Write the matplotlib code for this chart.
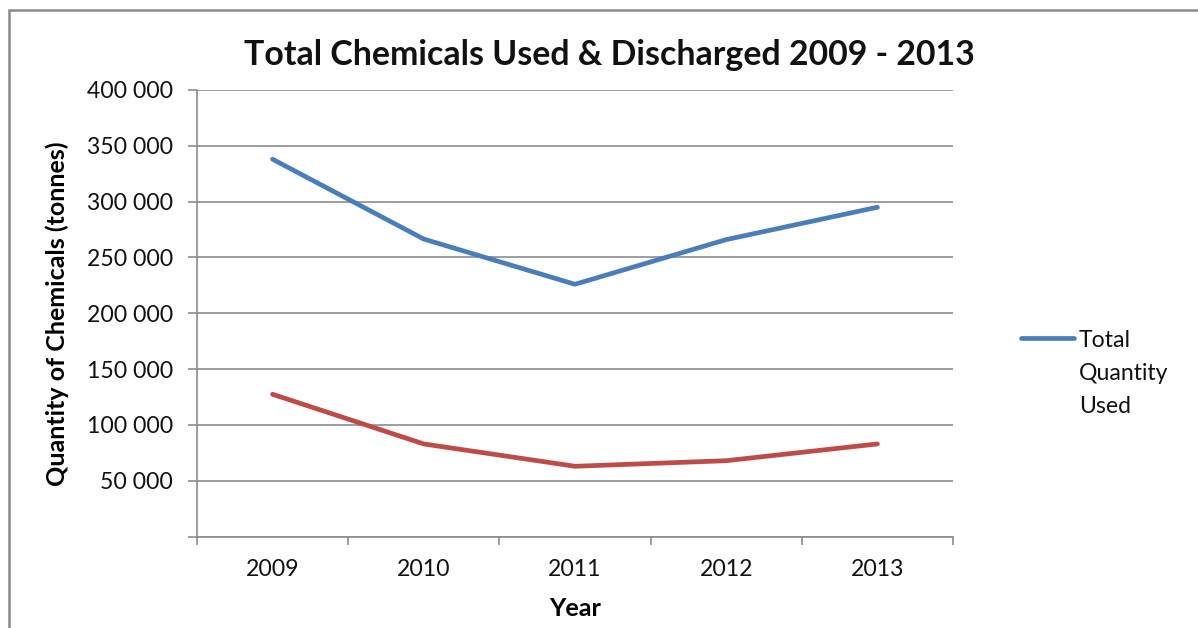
import numpy as np
import matplotlib
matplotlib.use("Agg")
import matplotlib.pyplot as plt
from matplotlib.patches import Rectangle
from matplotlib.ticker import FuncFormatter, MultipleLocator

# ----------------------------
# data (tonnes)
# ----------------------------
years = ["2009", "2010", "2011", "2012", "2013"]
total_used = [338000, 266500, 226000, 266000, 295000]
total_discharged = [127500, 83000, 63000, 68000, 83000]

BLUE = "#4A7EBB"
RED = "#BE4B48"
GRID = "#8C8C8C"
FS = 16.6

plt.rcParams["font.family"] = ["Lato", "DejaVu Sans"]
plt.rcParams["text.color"] = "#111111"

fig = plt.figure(figsize=(11.98, 6.28), dpi=100)
ax = fig.add_axes([0.1644, 0.1455, 0.6311, 0.7112])

x = np.arange(len(years))
ax.plot(x, total_used, color=BLUE, lw=3.4, solid_capstyle="round",
        solid_joinstyle="round", label="Total\nQuantity\nUsed", zorder=3)
ax.plot(x, total_discharged, color=RED, lw=3.4, solid_capstyle="round",
        solid_joinstyle="round", zorder=3)

# axes styling
ax.set_xlim(-0.5, len(years) - 0.5)
ax.set_ylim(0, 400000)
ax.yaxis.set_major_locator(MultipleLocator(50000))
ax.yaxis.set_major_formatter(
    FuncFormatter(lambda v, _: "" if v == 0 else f"{int(v):,}".replace(",", " ")))
ax.grid(axis="y", color=GRID, lw=1.2, zorder=1)
ax.set_axisbelow(True)

for side in ["top", "right"]:
    ax.spines[side].set_visible(False)
for side in ["left", "bottom"]:
    ax.spines[side].set_color(GRID)
    ax.spines[side].set_linewidth(1.2)

ax.set_xticks(x, years)
ax.set_xticks(np.arange(-0.5, len(years)), minor=True)
ax.tick_params(axis="x", which="major", length=0, pad=16, labelsize=FS, labelcolor="#111111")
ax.tick_params(axis="x", which="minor", length=6, width=1.2, color=GRID)
ax.tick_params(axis="y", length=6.5, width=1.2, color=GRID, pad=11, labelsize=FS,
               labelcolor="#111111")

ax.set_xlabel("Year", fontsize=18.2, fontweight="bold", va="center")
ax.xaxis.set_label_coords(0.5, -0.162)
ax.set_ylabel("Quantity of Chemicals (tonnes)", fontsize=18, fontweight="bold",
              va="center")
ax.yaxis.set_label_coords(-0.185, 0.5)

fig.suptitle("Total Chemicals Used & Discharged 2009 - 2013", x=0.5083, y=0.9124,
             va="center", fontsize=24.4, fontweight="bold")

# legend shows only the first series
leg = fig.legend(loc="upper left", bbox_to_anchor=(0.8523, 0.475), frameon=False,
                 borderpad=0, borderaxespad=0, handlelength=2.3, handletextpad=0.2,
                 fontsize=FS)
leg.get_texts()[0].set_linespacing(1.72)
for col in leg._legend_handle_box.get_children():
    for item in col.get_children():
        item.align = "top"

# chart border
fig.add_artist(Rectangle((9 / 1198, -0.1), 1.2, 1.1 - 10 / 628, transform=fig.transFigure,
                         fill=False, edgecolor="#8A8A8A", lw=1.8))

fig.savefig("out.png", dpi=100)
